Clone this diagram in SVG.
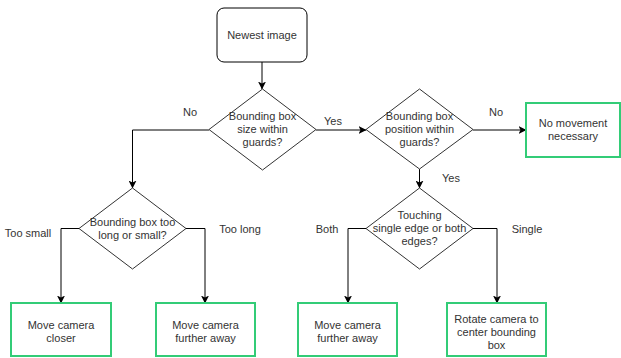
<svg xmlns="http://www.w3.org/2000/svg" width="621" height="358" viewBox="0 0 621 358">
  <defs>
    <marker id="arrow" viewBox="0 0 8 8" refX="7.5" refY="4" markerWidth="8" markerHeight="8" markerUnits="userSpaceOnUse" orient="auto">
      <path d="M0,0 L8,4 L0,8 L2,4 Z" fill="#000"/>
    </marker>
    <style>
      .edge { fill: none; stroke: #000; stroke-width: 1; }
      .decision { fill: #fff; stroke: #333; stroke-width: 1; }
      .start { fill: #fff; stroke: #000; stroke-width: 1; }
      .action { fill: #fff; stroke: #33cc77; stroke-width: 2; }
      text { font-family: "Liberation Sans", Arial, sans-serif; font-size: 11px; fill: #333; text-anchor: middle; }
    </style>
  </defs>
  <rect width="621" height="358" fill="#fff"/>

  <g id="connectors">
    <path class="edge" d="M262,62 V89" marker-end="url(#arrow)"/>
    <path class="edge" d="M316,130 H366" marker-end="url(#arrow)"/>
    <path class="edge" d="M473,130 H526" marker-end="url(#arrow)"/>
    <path class="edge" d="M419.5,169 V188" marker-end="url(#arrow)"/>
    <path class="edge" d="M209,130 H132.5 V188" marker-end="url(#arrow)"/>
    <path class="edge" d="M79,228.5 H61 V303" marker-end="url(#arrow)"/>
    <path class="edge" d="M186,228.5 H205 V303" marker-end="url(#arrow)"/>
    <path class="edge" d="M366,228.5 H348 V303" marker-end="url(#arrow)"/>
    <path class="edge" d="M473,228.5 H497 V303" marker-end="url(#arrow)"/>
    <text x="190" y="116">No</text>
    <text x="333" y="125">Yes</text>
    <text x="496" y="116">No</text>
    <text x="451" y="182">Yes</text>
    <text x="28" y="237">Too small</text>
    <text x="240" y="233">Too long</text>
    <text x="327" y="233">Both</text>
    <text x="527" y="233">Single</text>
  </g>

  <g id="newest-image">
    <rect class="start" x="217" y="8" width="90" height="54" rx="7"/>
    <text x="262" y="39">Newest image</text>
  </g>

  <g id="size-check">
    <polygon class="decision" points="262.5,89 316,129.5 262.5,170 209,129.5"/>
    <text x="262.5" y="120">Bounding box</text>
    <text x="262.5" y="133">size within</text>
    <text x="262.5" y="146">guards?</text>
  </g>

  <g id="position-check">
    <polygon class="decision" points="419.5,89 473,129.5 419.5,169 366,129.5"/>
    <text x="419.5" y="120">Bounding box</text>
    <text x="419.5" y="133">position within</text>
    <text x="419.5" y="146">guards?</text>
  </g>

  <g id="no-movement">
    <rect class="action" x="526" y="103" width="94" height="54"/>
    <text x="573" y="127">No movement</text>
    <text x="573" y="140">necessary</text>
  </g>

  <g id="length-check">
    <polygon class="decision" points="132.5,188 186,228.5 132.5,269 79,228.5"/>
    <text x="132.5" y="226">Bounding box too</text>
    <text x="132.5" y="239">long or small?</text>
  </g>

  <g id="edge-check">
    <polygon class="decision" points="419.5,188 473,228.5 419.5,269 366,228.5"/>
    <text x="419.5" y="219">Touching</text>
    <text x="419.5" y="232">single edge or both</text>
    <text x="419.5" y="245">edges?</text>
  </g>

  <g id="move-closer">
    <rect class="action" x="11" y="303" width="100" height="53"/>
    <text x="61" y="329">Move camera</text>
    <text x="61" y="342">closer</text>
  </g>

  <g id="move-away-size">
    <rect class="action" x="156" y="303" width="99" height="53"/>
    <text x="205.5" y="329">Move camera</text>
    <text x="205.5" y="342">further away</text>
  </g>

  <g id="move-away-edges">
    <rect class="action" x="298" y="303" width="99" height="53"/>
    <text x="347.5" y="329">Move camera</text>
    <text x="347.5" y="342">further away</text>
  </g>

  <g id="rotate-camera">
    <rect class="action" x="447" y="303" width="99" height="53"/>
    <text x="496.5" y="323">Rotate camera to</text>
    <text x="496.5" y="336">center bounding</text>
    <text x="496.5" y="349">box</text>
  </g>
</svg>
